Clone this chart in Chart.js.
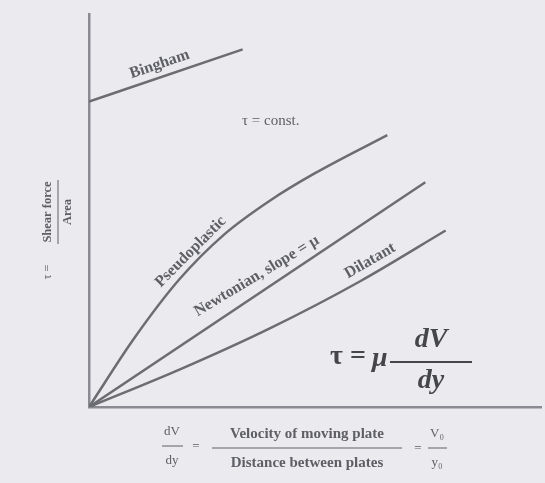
<!DOCTYPE html>
<html>
<head>
<meta charset="utf-8">
<script src="https://cdn.jsdelivr.net/npm/chart.js@4/dist/chart.umd.min.js"></script>
<style>
  html, body { margin: 0; padding: 0; background: #ebebef; }
  #wrap { position: relative; width: 545px; height: 483px; }
  canvas { display: block; }
</style>
</head>
<body>
<div id="wrap"><canvas id="c" width="545" height="483"></canvas></div>
<script>
// Shear rate (dV/dy) and shear stress (tau) values (arbitrary units 0-10)
const binghamX = [0, 3.4];
const binghamY = [7.77, 9.1];
const pseudoX = [0, 1, 2, 3, 4, 5, 6.6];
const pseudoY = [0, 1.75, 3.25, 4.4, 5.25, 5.95, 6.92];
const newtonX = [0, 7.44];
const newtonY = [0, 5.72];
const dilatX = [0, 2, 4, 6, 7.89];
const dilatY = [0, 0.95, 2.0, 3.2, 4.49];

const curveLabels = ["Bingham", "Pseudoplastic", "Newtonian, slope = μ", "Dilatant"];
const constLabel = "τ = const.";
const yTitle = ["τ =", "Shear force", "Area"];
const xTitle = ["dV", "dy", "Velocity of moving plate", "Distance between plates", "V₀", "y₀"];

const pts = (xs, ys) => xs.map((x, i) => ({ x: x, y: ys[i] }));
const lineCol = "#6c6c72";
const textCol = "#5e5e66";

const textPlugin = {
  id: "texts",
  afterDraw(chart) {
    const ctx = chart.ctx;
    const sx = chart.scales.x, sy = chart.scales.y;
    const P = (x, y) => [sx.getPixelForValue(x), sy.getPixelForValue(y)];
    ctx.save();
    ctx.fillStyle = textCol;
    ctx.strokeStyle = textCol;
    ctx.textAlign = "center";
    ctx.textBaseline = "middle";
    function rot(txt, x, y, deg, font) {
      const [px, py] = P(x, y);
      ctx.save();
      ctx.translate(px, py);
      ctx.rotate(deg * Math.PI / 180);
      ctx.font = font;
      ctx.fillText(txt, 0, 0);
      ctx.restore();
    }
    // curve labels
    rot(curveLabels[0], 1.56, 8.72, -19, "bold 16px 'Liberation Serif'");
    rot(curveLabels[1], 2.25, 3.95, -45, "bold 16px 'Liberation Serif'");
    rot(curveLabels[2], 3.71, 3.33, -31, "bold 16px 'Liberation Serif'");
    rot(curveLabels[3], 6.22, 3.72, -30, "bold 16px 'Liberation Serif'");
    // tau = const
    ctx.textAlign = "left";
    ctx.font = "15px 'Liberation Serif'";
    ctx.fillText(constLabel, 242, 121);

    // formula tau = mu dV/dy
    ctx.fillStyle = "#45454c";
    ctx.strokeStyle = "#45454c";
    ctx.font = "bold 28px 'Liberation Serif'";
    ctx.textAlign = "left";
    ctx.fillText("τ = ", 330, 357);
    ctx.font = "italic bold 28px 'Liberation Serif'";
    ctx.fillText("μ", 372, 359);
    ctx.textAlign = "center";
    ctx.fillText("dV", 431, 340);
    ctx.fillText("dy", 431, 381);
    ctx.lineWidth = 2.2;
    ctx.beginPath(); ctx.moveTo(390, 362); ctx.lineTo(472, 362); ctx.stroke();

    // y axis title (rotated)
    ctx.fillStyle = textCol; ctx.strokeStyle = textCol;
    ctx.save();
    ctx.translate(58, 230);
    ctx.rotate(-Math.PI / 2);
    ctx.font = "12px 'Liberation Serif'";
    ctx.textAlign = "center";
    ctx.fillText(yTitle[0], -42, -10);
    ctx.font = "bold 12.5px 'Liberation Serif'";
    ctx.fillText(yTitle[1], 18, -10);
    ctx.fillText(yTitle[2], 18, 10);
    ctx.lineWidth = 1;
    ctx.beginPath(); ctx.moveTo(-14, 0); ctx.lineTo(50, 0); ctx.stroke();
    ctx.restore();

    // x axis title
    ctx.font = "13px 'Liberation Serif'";
    ctx.textAlign = "center";
    ctx.fillText(xTitle[0], 172, 432);
    ctx.fillText(xTitle[1], 172, 461);
    ctx.lineWidth = 1;
    ctx.beginPath(); ctx.moveTo(162, 446); ctx.lineTo(183, 446); ctx.stroke();
    ctx.fillText("=", 196, 447);
    ctx.font = "bold 15px 'Liberation Serif'";
    ctx.fillText(xTitle[2], 307, 434);
    ctx.fillText(xTitle[3], 307, 463);
    ctx.beginPath(); ctx.moveTo(212, 448); ctx.lineTo(402, 448); ctx.stroke();
    ctx.font = "13px 'Liberation Serif'";
    ctx.fillText("=", 418, 449);
    ctx.fillText(xTitle[4], 437, 434);
    ctx.fillText(xTitle[5], 437, 463);
    ctx.beginPath(); ctx.moveTo(428, 448); ctx.lineTo(447, 448); ctx.stroke();
    ctx.restore();
  }
};

const ds = (data, extra) => Object.assign({
  data: data,
  borderColor: lineCol,
  borderWidth: 2.5,
  pointRadius: 0,
  fill: false,
  cubicInterpolationMode: "monotone"
}, extra || {});

new Chart(document.getElementById("c"), {
  type: "line",
  data: {
    datasets: [
      ds(pts(binghamX, binghamY), { label: curveLabels[0] }),
      ds(pts(pseudoX, pseudoY), { label: curveLabels[1] }),
      ds(pts(newtonX, newtonY), { label: curveLabels[2] }),
      ds(pts(dilatX, dilatY), { label: curveLabels[3] })
    ]
  },
  options: {
    responsive: false,
    animation: false,
    layout: { padding: { left: 89, top: 14, right: 4, bottom: 76 } },
    plugins: { legend: { display: false }, tooltip: { enabled: false } },
    scales: {
      x: {
        type: "linear", min: 0, max: 10,
        grid: { display: false },
        ticks: { display: false },
        border: { display: true, color: "#8a8a92", width: 2.5 },
        afterFit(s) { s.height = 0; }
      },
      y: {
        type: "linear", min: 0, max: 10,
        grid: { display: false },
        ticks: { display: false },
        border: { display: true, color: "#8a8a92", width: 2.5 },
        afterFit(s) { s.width = 0; }
      }
    }
  },
  plugins: [textPlugin]
});
</script>
</body>
</html>
